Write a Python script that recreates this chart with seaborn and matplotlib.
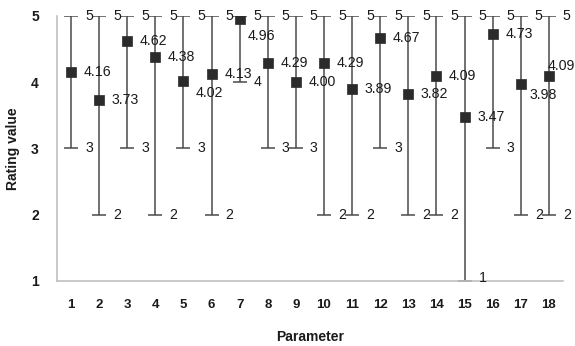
import matplotlib
matplotlib.use("Agg")
import matplotlib.pyplot as plt
import seaborn as sns
import pandas as pd

parameters = list(range(1, 19))
mean_values = [4.16, 3.73, 4.62, 4.38, 4.02, 4.13, 4.96, 4.29, 4.00,
               4.29, 3.89, 4.67, 3.82, 4.09, 3.47, 4.73, 3.98, 4.09]
max_values = [5] * 18
min_values = [3, 2, 3, 2, 3, 2, 4, 3, 3, 2, 2, 3, 2, 2, 1, 3, 2, 2]
y_ticks = [1, 2, 3, 4, 5]

df = pd.DataFrame({"Parameter": parameters, "Mean": mean_values,
                   "Min": min_values, "Max": max_values})

sns.set_style("white")
plt.rcParams["font.family"] = ["Liberation Sans", "DejaVu Sans"]

fig = plt.figure(figsize=(5.75, 3.46), dpi=100)
ax = fig.add_axes([0.099, 0.188, 0.880, 0.766])

line_col = "#4a4a4a"
text_col = "#1a1a1a"

ax.errorbar(df["Parameter"], df["Mean"],
            yerr=[df["Mean"] - df["Min"], df["Max"] - df["Mean"]],
            fmt="none", ecolor=line_col, elinewidth=1.1, capsize=5,
            capthick=1.1, zorder=2)
sns.scatterplot(data=df, x="Parameter", y="Mean", marker="s", s=50,
                color="#2b2b2b", edgecolor="#2b2b2b", linewidth=0.5,
                ax=ax, zorder=3, legend=False)

label_nudge = {5: (0.0, -0.18), 7: (-0.15, -0.26), 17: (-0.15, -0.18),
               18: (-0.5, 0.15)}
fs = 10.2
for p, m, lo, hi in zip(parameters, mean_values, min_values, max_values):
    dx, dy = label_nudge.get(p, (0.0, 0.0))
    ax.text(p + 0.45 + dx, m + dy, f"{m:.2f}", ha="left", va="center",
            fontsize=fs, color=text_col, zorder=4)
    ax.text(p + 0.5, hi, f"{hi}", ha="left", va="center",
            fontsize=fs, color=text_col, zorder=4)
    yo = 0.05 if lo == 1 else 0.0
    ax.text(p + 0.5, lo + yo, f"{lo}", ha="left", va="center",
            fontsize=fs, color=text_col, zorder=4)

ax.set_xlim(0.5, 18.5)
ax.set_ylim(1, 5)
ax.set_xticks(parameters)
ax.set_xticklabels([str(p) for p in parameters], fontweight="bold",
                   fontsize=9.5, color=text_col)
ax.set_yticks(y_ticks)
ax.set_yticklabels([str(t) for t in y_ticks], fontweight="bold",
                   fontsize=10, color=text_col)
ax.tick_params(axis="x", length=0, pad=13)
ax.tick_params(axis="y", length=0, pad=13)
ax.set_xlabel("Parameter", fontweight="bold", fontsize=10, color=text_col)
ax.set_ylabel("Rating value", fontweight="bold", fontsize=10, color=text_col)
ax.xaxis.set_label_coords(0.5, -0.185)
ax.yaxis.set_label_coords(-0.073, 0.5)

for side in ["top", "right"]:
    ax.spines[side].set_visible(False)
for side in ["left", "bottom"]:
    ax.spines[side].set_color("#c0c0c0")
    ax.spines[side].set_linewidth(1.2)

fig.savefig("out.png", dpi=100)
